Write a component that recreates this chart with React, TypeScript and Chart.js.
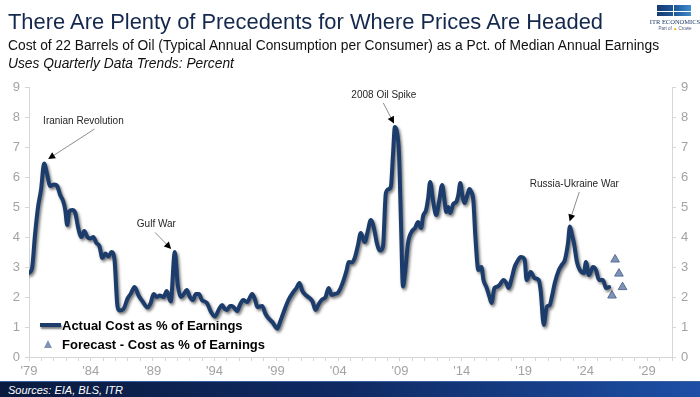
import React, { useEffect, useRef } from "react";
import { Chart, registerables } from "chart.js";

Chart.register(...registerables);

// ---- Data (decimal years, percent) ----
const actualYears = [
  1979.0, 1979.24, 1979.49, 1979.73, 1979.98, 1980.22, 1980.46, 1980.71, 1981.03, 1981.28,
  1981.52, 1981.76, 1981.93, 1982.09, 1982.25, 1982.5, 1982.74, 1982.98, 1983.23, 1983.47,
  1983.72, 1983.96, 1984.2, 1984.45, 1984.69, 1984.93, 1985.18, 1985.42, 1985.67, 1985.91,
  1986.15, 1986.32, 1986.64, 1986.97, 1987.21, 1987.54, 1987.86, 1988.19, 1988.59, 1988.84,
  1989.08, 1989.33, 1989.57, 1989.89, 1990.14, 1990.46, 1990.79, 1991.03, 1991.28, 1991.52,
  1991.76, 1992.01, 1992.25, 1992.5, 1992.74, 1992.98, 1993.39, 1993.72, 1994.04, 1994.37,
  1994.61, 1994.85, 1995.02, 1995.26, 1995.42, 1995.67, 1995.83, 1996.07, 1996.32, 1996.64,
  1997.05, 1997.29, 1997.46, 1997.86, 1998.11, 1998.35, 1998.67, 1999.08, 1999.33, 1999.57,
  1999.98, 2000.38, 2000.63, 2000.87, 2001.11, 2001.36, 2001.68, 2001.93, 2002.17, 2002.41,
  2002.66, 2002.98, 2003.23, 2003.47, 2003.72, 2003.96, 2004.2, 2004.45, 2004.69, 2004.85,
  2005.1, 2005.34, 2005.59, 2005.83, 2006.15, 2006.4, 2006.64, 2006.89, 2007.13, 2007.37,
  2007.62, 2007.86, 2008.11, 2008.27, 2008.43, 2008.59, 2008.76, 2008.92, 2009.08, 2009.24,
  2009.41, 2009.65, 2009.98, 2010.22, 2010.46, 2010.71, 2010.87, 2011.11, 2011.28, 2011.44,
  2011.68, 2011.93, 2012.17, 2012.41, 2012.58, 2012.74, 2012.9, 2013.07, 2013.31, 2013.55,
  2013.72, 2013.88, 2014.04, 2014.2, 2014.45, 2014.61, 2014.77, 2014.93, 2015.1, 2015.34,
  2015.59, 2015.75, 2015.99, 2016.24, 2016.4, 2016.64, 2016.89, 2017.05, 2017.37, 2017.62,
  2017.78, 2018.02, 2018.27, 2018.51, 2018.76, 2019.08, 2019.24, 2019.57, 2019.89, 2020.22,
  2020.38, 2020.63, 2020.87, 2021.11, 2021.28, 2021.52, 2021.85, 2022.09, 2022.33, 2022.59,
  2022.74, 2022.9, 2023.07, 2023.31, 2023.55, 2023.88, 2024.04, 2024.28, 2024.61, 2024.85,
  2025.09, 2025.41, 2025.67, 2025.91,
];

const actualValues = [
  2.8, 2.95, 4.1, 5.0, 5.6, 6.45, 6.1, 5.7, 5.75, 5.7,
  5.4, 5.2, 4.9, 4.4, 4.85, 4.9, 4.8, 4.3, 4.0, 4.2,
  4.0, 3.95, 4.0, 3.8, 3.7, 3.3, 3.45, 3.35, 3.5, 3.25,
  1.7, 1.55, 1.6, 1.95, 2.1, 2.33, 2.05, 1.85, 1.65, 1.8,
  2.1, 2.0, 2.05, 2.0, 2.2, 1.85, 3.5, 2.4, 2.0, 2.1,
  2.23, 2.0, 1.9, 2.1, 2.1, 1.9, 1.8, 1.5, 1.35, 1.6,
  1.73, 1.6, 1.57, 1.7, 1.7, 1.6, 1.53, 1.75, 1.9, 1.83,
  2.1, 1.9, 1.67, 1.7, 1.45, 1.3, 1.17, 0.95, 1.2, 1.47,
  1.9, 2.17, 2.3, 2.47, 2.2, 2.07, 1.97, 1.85, 1.57, 1.75,
  1.9, 2.0, 2.3, 2.07, 2.1, 2.13, 2.3, 2.57, 2.9, 3.17,
  3.15, 3.3, 3.7, 4.13, 3.83, 4.2, 4.57, 4.3, 3.8, 3.55,
  3.67, 5.47, 5.6, 5.7, 6.7, 7.67, 7.5, 6.8, 4.5, 2.35,
  2.8, 3.8, 4.2, 4.3, 4.5, 4.3, 4.7, 4.9, 5.3, 5.83,
  5.2, 4.73, 5.2, 5.73, 5.3, 4.83, 5.0, 4.8, 5.1, 5.17,
  5.4, 5.8, 5.4, 5.13, 5.4, 5.6, 5.5, 5.23, 4.0, 2.9,
  3.0, 2.57, 2.33, 2.0, 1.8, 2.3, 2.35, 2.4, 2.57, 2.45,
  2.3, 2.6, 3.0, 3.2, 3.33, 3.25, 2.57, 2.83, 2.63, 2.57,
  2.2, 1.07, 1.67, 1.73, 2.0, 2.47, 2.9, 3.07, 3.23, 3.8,
  4.35, 4.1, 3.8, 3.17, 2.9, 2.8, 3.17, 2.73, 3.0, 2.9,
  2.57, 2.57, 2.3, 2.33,
];

const forecastYears = [2026.15, 2026.4, 2026.71, 2027.0];
const forecastValues = [2.05, 3.25, 2.78, 2.33];

const xTickYears = [1979, 1984, 1989, 1994, 1999, 2004, 2009, 2014, 2019, 2024, 2029];
const yTickValues = [0, 1, 2, 3, 4, 5, 6, 7, 8, 9];

const eventLabels = ["Iranian Revolution", "Gulf War", "2008 Oil Spike", "Russia-Ukraine War"];
// label centre, arrow tail, arrow tip (in data units: year, percent)
const eventLabelAt = [[1983.4, 7.87], [1989.3, 4.43], [2007.7, 8.72], [2023.1, 5.77]];
const eventTailAt = [[1984.3, 7.6], [1989.2, 4.15], [2007.65, 8.47], [2023.5, 5.5]];
const eventTipAt = [[1980.55, 6.6], [1990.5, 3.6], [2008.52, 7.78], [2022.72, 4.52]];

const NAVY = "#1c3c6c";
const AXIS_GRAY = "#d6d6d6";
const TICK_GRAY = "#a3a3a3";
const FONT = "'Liberation Sans', Arial, sans-serif";

const shadowPlugin = {
  id: "lineShadow",
  beforeDatasetDraw(chart: any, args: any) {
    if (args.index === 0) {
      const ctx = chart.ctx;
      ctx.save();
      ctx.shadowColor = "rgba(0,0,0,0.55)";
      ctx.shadowBlur = 3;
      ctx.shadowOffsetX = 1.5;
      ctx.shadowOffsetY = 2;
    }
  },
  afterDatasetDraw(chart: any, args: any) {
    if (args.index === 0) chart.ctx.restore();
  },
};

const eventsPlugin = {
  id: "events",
  afterDatasetsDraw(chart: any) {
    const { ctx, scales } = chart;
    const xs = scales.x;
    const ys = scales.y;
    ctx.save();
    eventLabels.forEach((label, i) => {
      const lx = xs.getPixelForValue(eventLabelAt[i][0]);
      const ly = ys.getPixelForValue(eventLabelAt[i][1]);
      const tx = xs.getPixelForValue(eventTailAt[i][0]);
      const ty = ys.getPixelForValue(eventTailAt[i][1]);
      const px = xs.getPixelForValue(eventTipAt[i][0]);
      const py = ys.getPixelForValue(eventTipAt[i][1]);
      ctx.font = `10px ${FONT}`;
      ctx.fillStyle = "#262626";
      ctx.textAlign = "center";
      ctx.textBaseline = "middle";
      ctx.fillText(label, lx, ly);
      const ang = Math.atan2(py - ty, px - tx);
      const head = 7;
      const hx = px - head * Math.cos(ang);
      const hy = py - head * Math.sin(ang);
      ctx.strokeStyle = "#8c8c8c";
      ctx.lineWidth = 1;
      ctx.beginPath();
      ctx.moveTo(tx, ty);
      ctx.lineTo(hx, hy);
      ctx.stroke();
      ctx.fillStyle = "#000";
      ctx.beginPath();
      ctx.moveTo(px, py);
      ctx.lineTo(hx + 3.5 * Math.sin(ang), hy - 3.5 * Math.cos(ang));
      ctx.lineTo(hx - 3.5 * Math.sin(ang), hy + 3.5 * Math.cos(ang));
      ctx.closePath();
      ctx.fill();
    });
    ctx.restore();
  },
};

export default function App() {
  const canvasRef = useRef<HTMLCanvasElement | null>(null);

  useEffect(() => {
    const canvas = canvasRef.current;
    if (!canvas) return;
    const yTickCommon = {
      min: 0,
      max: 9,
      ticks: {
        stepSize: 1,
        color: TICK_GRAY,
        font: { family: FONT, size: 13 },
        padding: 5,
        callback: (v: any) => (yTickValues.includes(v) ? String(v) : ""),
      },
      grid: { drawOnChartArea: false, tickLength: 4, color: AXIS_GRAY },
      border: { display: true, color: AXIS_GRAY },
    };
    const chart = new Chart(canvas, {
      type: "line",
      data: {
        datasets: [
          {
            label: "Actual Cost as % of Earnings",
            data: actualYears.map((x, i) => ({ x, y: actualValues[i] })),
            borderColor: NAVY,
            backgroundColor: NAVY,
            borderWidth: 4,
            pointRadius: 0,
            cubicInterpolationMode: "monotone",
            borderJoinStyle: "round",
            borderCapStyle: "round",
          },
          {
            label: "Forecast - Cost as % of Earnings",
            data: forecastYears.map((x, i) => ({ x, y: forecastValues[i] })),
            showLine: false,
            pointStyle: "triangle",
            pointRadius: 5,
            backgroundColor: "#7f93b6",
            borderColor: "#5b6f96",
            borderWidth: 1,
          },
        ],
      },
      options: {
        responsive: false,
        animation: false,
        layout: { padding: { top: 87, left: 0, right: 0, bottom: 0 } },
        plugins: {
          legend: { display: false },
          tooltip: { enabled: false },
          title: { display: false },
        },
        scales: {
          x: {
            type: "linear",
            min: 1979,
            max: 2031,
            afterFit: (s: any) => {
              s.height = 40;
            },
            ticks: {
              stepSize: 1,
              autoSkip: false,
              maxRotation: 0,
              minRotation: 0,
              padding: 3,
              color: TICK_GRAY,
              font: { family: FONT, size: 13 },
              callback: (v: any) =>
                xTickYears.includes(v) ? "'" + String(v).slice(2) : "",
            },
            grid: { drawOnChartArea: false, tickLength: 4, color: AXIS_GRAY },
            border: { display: true, color: AXIS_GRAY },
          },
          y: {
            ...yTickCommon,
            position: "left",
            afterFit: (s: any) => {
              s.width = 29;
            },
          },
          y2: {
            ...yTickCommon,
            position: "right",
            display: true,
            afterFit: (s: any) => {
              s.width = 28;
            },
          },
        },
      } as any,
      plugins: [shadowPlugin, eventsPlugin],
    });
    return () => chart.destroy();
  }, []);

  return (
    <div
      style={{
        position: "relative",
        width: 700,
        height: 397,
        overflow: "hidden",
        background: "#fff",
        fontFamily: FONT,
      }}
    >
      <style>{`body{margin:0}`}</style>
      <canvas
        ref={canvasRef}
        width={700}
        height={397}
        style={{ position: "absolute", left: 0, top: 0, width: 700, height: 397 }}
      />
      <div
        style={{
          position: "absolute",
          left: 8,
          top: 11,
          fontSize: 21.9,
          lineHeight: "22px",
          color: "#14284d",
          whiteSpace: "nowrap",
        }}
      >
        There Are Plenty of Precedents for Where Prices Are Headed
      </div>
      <div
        style={{
          position: "absolute",
          left: 8,
          top: 39,
          fontSize: 13.8,
          lineHeight: "14px",
          color: "#111",
          whiteSpace: "nowrap",
        }}
      >
        Cost of 22 Barrels of Oil (Typical Annual Consumption per Consumer) as a Pct. of Median Annual Earnings
      </div>
      <div
        style={{
          position: "absolute",
          left: 8,
          top: 57,
          fontSize: 13.8,
          lineHeight: "14px",
          fontStyle: "italic",
          color: "#111",
          whiteSpace: "nowrap",
        }}
      >
        Uses Quarterly Data Trends: Percent
      </div>

      {/* logo */}
      <div style={{ position: "absolute", left: 657, top: 5, width: 34, height: 11 }}>
        <div
          style={{
            position: "absolute",
            left: 0,
            top: 0,
            width: 34,
            height: 11,
            background: "linear-gradient(90deg,#163a70 0%,#1f5c9e 55%,#3f8ccc 100%)",
          }}
        />
        <div
          style={{
            position: "absolute",
            left: 0,
            top: 6,
            width: 34,
            height: 1,
            background: "#fff",
          }}
        />
        <div
          style={{
            position: "absolute",
            left: 16,
            top: 0,
            width: 1,
            height: 11,
            background: "#fff",
          }}
        />
      </div>
      <div
        style={{
          position: "absolute",
          left: 648,
          top: 18,
          width: 54,
          textAlign: "center",
          fontFamily: "'Liberation Serif', serif",
          fontSize: 6.5,
          lineHeight: "7px",
          color: "#1d3a6a",
          whiteSpace: "nowrap",
        }}
      >
        ITR ECONOMICS
      </div>
      <div
        style={{
          position: "absolute",
          left: 648,
          top: 26,
          width: 54,
          textAlign: "center",
          fontSize: 4.5,
          lineHeight: "5px",
          color: "#4a5a7a",
          whiteSpace: "nowrap",
        }}
      >
        Part of <span style={{ color: "#f2a900" }}>▲</span> Crowe
      </div>

      {/* legend */}
      <div
        style={{
          position: "absolute",
          left: 40,
          top: 323,
          width: 21,
          height: 4,
          background: NAVY,
          boxShadow: "1px 2px 2px rgba(0,0,0,0.5)",
        }}
      />
      <div
        style={{
          position: "absolute",
          left: 62,
          top: 319,
          fontSize: 13,
          lineHeight: "13px",
          fontWeight: "bold",
          color: "#000",
          whiteSpace: "nowrap",
        }}
      >
        Actual Cost as % of Earnings
      </div>
      <div
        style={{
          position: "absolute",
          left: 44,
          top: 340,
          width: 0,
          height: 0,
          borderLeft: "4.5px solid transparent",
          borderRight: "4.5px solid transparent",
          borderBottom: "8px solid #7f93b6",
        }}
      />
      <div
        style={{
          position: "absolute",
          left: 62,
          top: 338,
          fontSize: 13,
          lineHeight: "13px",
          fontWeight: "bold",
          color: "#000",
          whiteSpace: "nowrap",
        }}
      >
        Forecast - Cost as % of Earnings
      </div>

      {/* source bar */}
      <div
        style={{
          position: "absolute",
          left: 0,
          top: 381,
          width: 700,
          height: 16,
          background: "linear-gradient(90deg,#0a1a3e 0%,#0f2a63 50%,#1d4fa6 100%)",
          borderTop: "1px solid #3a5fa0",
          boxSizing: "border-box",
        }}
      >
        <div
          style={{
            position: "absolute",
            left: 8,
            top: 2,
            fontSize: 11,
            lineHeight: "12px",
            fontStyle: "italic",
            color: "#fff",
            whiteSpace: "nowrap",
          }}
        >
          Sources: EIA, BLS, ITR
        </div>
      </div>
    </div>
  );
}
